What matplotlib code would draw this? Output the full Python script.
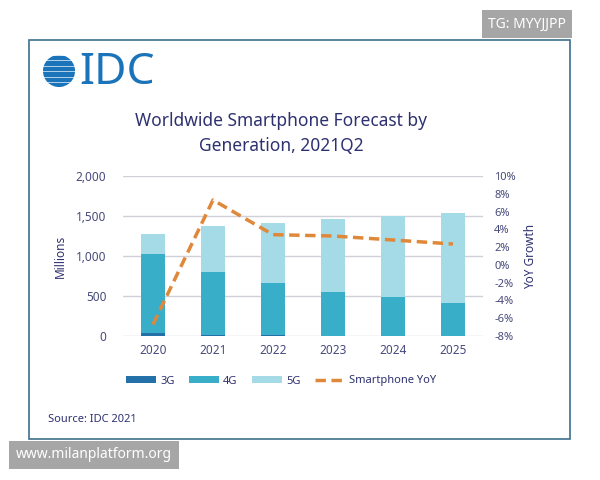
import matplotlib
matplotlib.use("Agg")
import matplotlib.pyplot as plt
from matplotlib.patches import Rectangle, Circle
import numpy as np

years = ["2020", "2021", "2022", "2023", "2024", "2025"]
g3 = [32, 15, 8, 3, 2, 1]
g4 = [993, 785, 654, 551, 481, 411]
g5 = [250, 575, 755, 908, 1017, 1130]
yoy = [-6.7, 7.3, 3.4, 3.25, 2.8, 2.35]
left_ticks = [0, 500, 1000, 1500, 2000]
right_ticks = [-8, -6, -4, -2, 0, 2, 4, 6, 8, 10]

plt.rcParams['font.family'] = ['Noto Sans', 'DejaVu Sans']
navy = '#2e3170'
tickc = '#474a7a'
c3, c4, c5 = '#2371a8', '#38aec8', '#a5dbe6'
corange = '#e0883a'
blue_logo = '#1b74b9'

W, H = 600, 480
fig = plt.figure(figsize=(6, 4.8), dpi=100)

def fx(x): return x / W
def fy(y): return 1 - y / H

# outer frame
fig.patches.append(Rectangle((fx(29), fy(439)), fx(570 - 29), (439 - 40) / H,
                             transform=fig.transFigure, fill=False,
                             edgecolor='#3d6f8c', linewidth=1.2))

# IDC logo
logo = fig.add_axes([fx(38), fy(92), fx(130), 40 / H])
logo.set_xlim(38, 168)
logo.set_ylim(92, 52)
logo.axis('off')
circ = Circle((59, 71), 16, transform=logo.transData)
stripe_y = [57.5, 63.0, 68.5, 74.0, 79.5, 85.0]
stripe_off = [0, -2, 2, -2, 2, 0]
for yy, off in zip(stripe_y, stripe_off):
    r = Rectangle((40 + off, yy - 1.6), 40, 3.2, color=blue_logo)
    logo.add_patch(r)
    r.set_clip_path(circ)
logo.text(79, 72.5, "IDC", fontsize=32, color=blue_logo, va='center', ha='left',
          fontweight='medium')

# title
fig.text(fx(281), fy(121), "Worldwide Smartphone Forecast by", ha='center', va='center',
         fontsize=12.5, color=navy)
fig.text(fx(281), fy(146), "Generation, 2021Q2", ha='center', va='center',
         fontsize=12.5, color=navy)

ax = fig.add_axes([fx(123), fy(336), fx(483 - 123), (336 - 176) / H])
x = np.arange(len(years))
bw = 0.39
g3a, g4a, g5a = np.array(g3), np.array(g4), np.array(g5)
ax.bar(x, g3a, bw, color=c3, label='3G', zorder=3)
ax.bar(x, g4a, bw, bottom=g3a, color=c4, label='4G', zorder=3)
ax.bar(x, g5a, bw, bottom=g3a + g4a, color=c5, label='5G', zorder=3)
ax.set_xlim(-0.5, len(years) - 0.5)
ax.set_ylim(0, 2000)
ax.set_yticks(left_ticks)
ax.set_yticklabels([f"{v:,}" for v in left_ticks])
ax.set_xticks(x)
ax.set_xticklabels(years)
ax.grid(axis='y', color='#cfd0d8', linewidth=1, zorder=0)
for s in ax.spines.values():
    s.set_visible(False)
ax.tick_params(axis='both', length=0, labelsize=8.5, labelcolor=tickc)
ax.tick_params(axis='y', pad=12)
ax.tick_params(axis='x', pad=6)
ax.set_ylabel("Millions", fontsize=8.5, color=navy, labelpad=6)

ax2 = ax.twinx()
ax2.plot(x, yoy, color=corange, linewidth=2.5, linestyle=(0, (3, 1.6)),
         label='Smartphone YoY', zorder=4)
ax2.set_ylim(-8, 10)
ax2.set_yticks(right_ticks)
ax2.set_yticklabels([f"{v}%" for v in right_ticks])
for s in ax2.spines.values():
    s.set_visible(False)
ax2.tick_params(axis='y', length=0, labelsize=8, labelcolor=tickc, pad=8)
ax2.set_ylabel("YoY Growth", fontsize=8.5, color=navy, labelpad=6)

h1, l1 = ax.get_legend_handles_labels()
h2, l2 = ax2.get_legend_handles_labels()
fig.legend(h1 + h2, l1 + l2, loc='center', bbox_to_anchor=(fx(281), fy(381)),
           ncol=4, frameon=False, fontsize=8, labelcolor=navy,
           handlelength=2.7, handleheight=0.6, columnspacing=1.3, handletextpad=0.35)

fig.text(fx(48), fy(419), "Source: IDC 2021", fontsize=8, color=navy, va='center')

# watermarks
fig.text(fx(527), fy(24), "TG: MYYJJPP", fontsize=10, color='white', ha='center', va='center',
         bbox=dict(boxstyle='square,pad=0.45', facecolor='#a6a6a6', edgecolor='none'))
fig.text(fx(94), fy(455), "www.milanplatform.org", fontsize=10, color='white', ha='center', va='center',
         bbox=dict(boxstyle='square,pad=0.5', facecolor='#a6a6a6', edgecolor='none'))

fig.savefig("out.png", dpi=100, facecolor='white')
